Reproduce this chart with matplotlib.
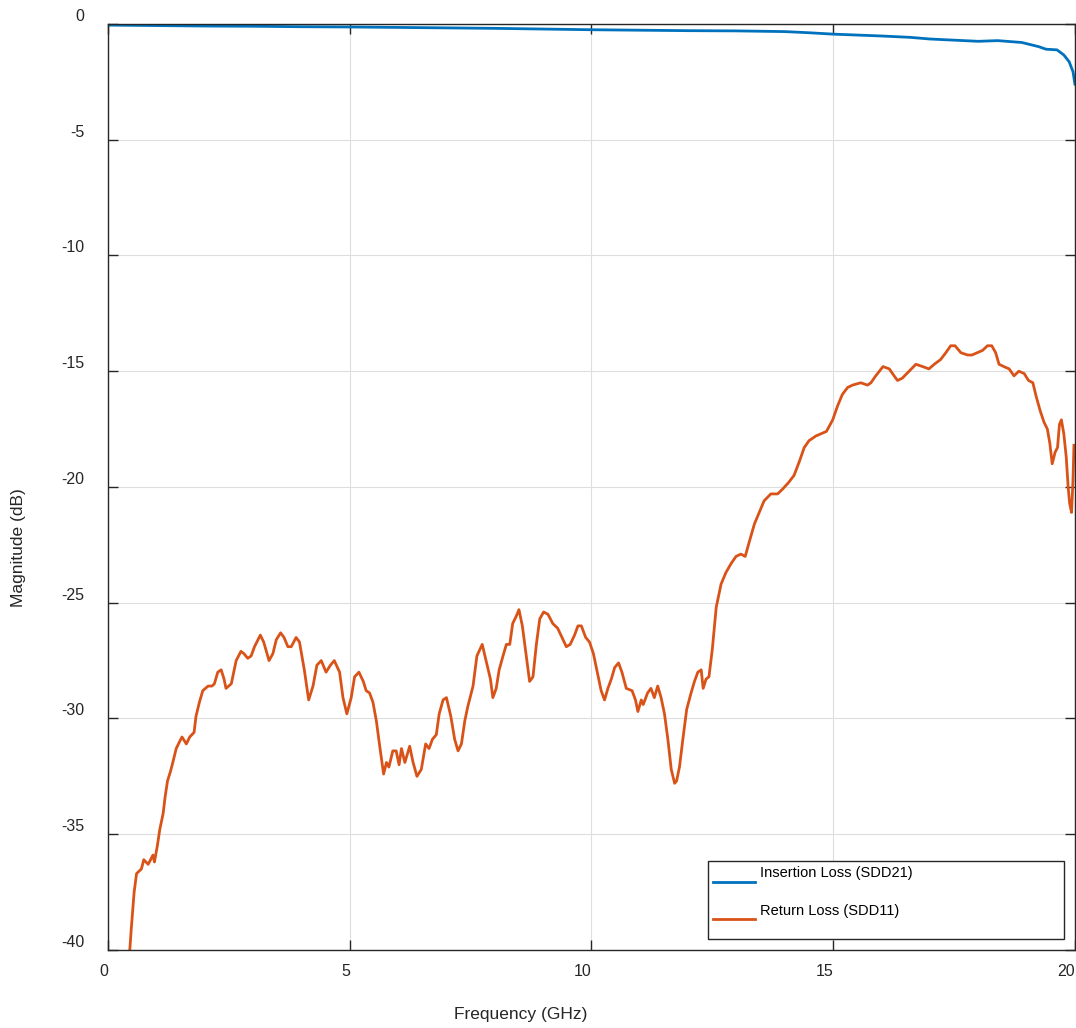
import matplotlib.pyplot as plt

plt.rcParams['font.family'] = ['Liberation Sans', 'DejaVu Sans']
plt.rcParams['axes.unicode_minus'] = False

# Insertion loss (SDD21)
il_freq = [0, 1, 2, 3, 4, 5, 6, 7, 8, 9, 10, 11, 12, 13, 14, 14.5, 15, 15.5,
           16, 16.6, 17, 17.5, 18, 18.4, 18.9, 19.25, 19.4, 19.63, 19.77, 19.88,
           19.96, 20.0]
il_db = [-0.05, -0.07, -0.09, -0.1, -0.12, -0.13, -0.15, -0.17, -0.19, -0.22,
         -0.25, -0.27, -0.29, -0.3, -0.33, -0.38, -0.44, -0.48, -0.52, -0.58,
         -0.65, -0.7, -0.75, -0.72, -0.8, -0.98, -1.09, -1.12, -1.34, -1.63,
         -2.06, -2.6]

# Return loss (SDD11)
rl_freq = [0.45, 0.48, 0.54, 0.59, 0.69, 0.74, 0.83, 0.93, 0.96, 1.02, 1.07,
           1.14, 1.18, 1.23, 1.29, 1.34, 1.41, 1.48, 1.53, 1.62, 1.69, 1.78,
           1.82, 1.89, 1.96, 2.07, 2.15, 2.2, 2.27, 2.34, 2.4, 2.44, 2.55, 2.65,
           2.75, 2.81, 2.89, 2.96, 3.03, 3.15, 3.22, 3.33, 3.41, 3.48, 3.57,
           3.64, 3.72, 3.79, 3.89, 3.96, 4.06, 4.15, 4.24, 4.32, 4.41, 4.51,
           4.6, 4.68, 4.79, 4.86, 4.94, 5.03, 5.1, 5.19, 5.28, 5.34, 5.41, 5.48,
           5.55, 5.62, 5.7, 5.76, 5.81, 5.89, 5.96, 6.02, 6.07, 6.14, 6.24,
           6.31, 6.39, 6.48, 6.57, 6.64, 6.71, 6.79, 6.85, 6.93, 7.0, 7.09,
           7.17, 7.24, 7.31, 7.38, 7.44, 7.55, 7.63, 7.74, 7.82, 7.91, 7.96,
           8.03, 8.09, 8.17, 8.24, 8.31, 8.37, 8.44, 8.5, 8.57, 8.65, 8.72,
           8.79, 8.86, 8.93, 9.01, 9.1, 9.2, 9.3, 9.39, 9.48, 9.56, 9.65, 9.72,
           9.79, 9.88, 9.96, 10.04, 10.11, 10.2, 10.27, 10.34, 10.41, 10.48,
           10.56, 10.63, 10.72, 10.84, 10.91, 10.96, 11.03, 11.07, 11.16, 11.23,
           11.3, 11.37, 11.44, 11.51, 11.58, 11.65, 11.72, 11.76, 11.82, 11.89,
           11.97, 12.06, 12.13, 12.2, 12.27, 12.31, 12.37, 12.43, 12.5, 12.58,
           12.68, 12.78, 12.89, 12.99, 13.09, 13.18, 13.26, 13.37, 13.47, 13.57,
           13.71, 13.85, 13.95, 14.08, 14.19, 14.3, 14.4, 14.5, 14.64, 14.75,
           14.86, 14.99, 15.09, 15.19, 15.3, 15.4, 15.57, 15.71, 15.78, 15.88,
           16.03, 16.16, 16.26, 16.33, 16.43, 16.57, 16.71, 16.85, 16.98, 17.09,
           17.22, 17.33, 17.43, 17.52, 17.64, 17.78, 17.87, 17.98, 18.09, 18.19,
           18.28, 18.36, 18.43, 18.53, 18.64, 18.74, 18.84, 18.95, 19.04, 19.13,
           19.2, 19.28, 19.36, 19.43, 19.48, 19.53, 19.59, 19.64, 19.68, 19.72,
           19.77, 19.82, 19.86, 19.89, 19.93, 19.96, 19.98]
rl_db = [-40.0, -39.1, -37.5, -36.7, -36.5, -36.1, -36.3, -35.9, -36.2, -35.5,
         -34.8, -34.1, -33.4, -32.7, -32.3, -31.9, -31.3, -31.0, -30.8, -31.1,
         -30.8, -30.6, -29.9, -29.3, -28.8, -28.6, -28.6, -28.5, -28.0, -27.9,
         -28.3, -28.7, -28.5, -27.5, -27.1, -27.2, -27.4, -27.3, -26.9, -26.4,
         -26.7, -27.5, -27.2, -26.6, -26.3, -26.5, -26.9, -26.9, -26.5, -26.7,
         -27.9, -29.2, -28.6, -27.7, -27.5, -28.0, -27.7, -27.5, -28.0, -29.1,
         -29.8, -29.1, -28.2, -28.0, -28.4, -28.8, -28.9, -29.3, -30.1, -31.2,
         -32.4, -31.9, -32.1, -31.4, -31.4, -32.0, -31.3, -31.9, -31.2, -31.9,
         -32.5, -32.2, -31.1, -31.3, -30.9, -30.7, -29.8, -29.2, -29.1, -29.9,
         -30.9, -31.4, -31.1, -30.1, -29.5, -28.6, -27.3, -26.8, -27.5, -28.3,
         -29.1, -28.7, -27.9, -27.3, -26.8, -26.8, -25.9, -25.6, -25.3, -26.0,
         -27.3, -28.4, -28.2, -26.8, -25.7, -25.4, -25.5, -25.9, -26.1, -26.5,
         -26.9, -26.8, -26.4, -26.0, -26.0, -26.5, -26.7, -27.2, -27.9, -28.8,
         -29.2, -28.7, -28.3, -27.8, -27.6, -28.0, -28.7, -28.8, -29.2, -29.7,
         -29.2, -29.4, -28.9, -28.7, -29.1, -28.6, -29.1, -29.8, -30.9, -32.2,
         -32.8, -32.7, -32.1, -30.9, -29.6, -28.9, -28.4, -28.0, -27.9, -28.7,
         -28.3, -28.2, -27.0, -25.2, -24.2, -23.7, -23.3, -23.0, -22.9, -23.0,
         -22.4, -21.6, -21.1, -20.6, -20.3, -20.3, -20.1, -19.8, -19.5, -18.9,
         -18.3, -18.0, -17.8, -17.7, -17.6, -17.1, -16.5, -16.0, -15.7, -15.6,
         -15.5, -15.6, -15.5, -15.2, -14.8, -14.9, -15.2, -15.4, -15.3, -15.0,
         -14.7, -14.8, -14.9, -14.7, -14.5, -14.2, -13.9, -13.9, -14.2, -14.3,
         -14.3, -14.2, -14.1, -13.9, -13.9, -14.2, -14.7, -14.8, -14.9, -15.2,
         -15.0, -15.1, -15.4, -15.5, -16.1, -16.7, -17.2, -17.5, -18.1, -19.0,
         -18.5, -18.3, -17.3, -17.1, -17.7, -18.7, -20.0, -20.7, -21.1, -19.7,
         -18.2]

x_ticks = [0, 5, 10, 15, 20]
y_ticks = [0, -5, -10, -15, -20, -25, -30, -35, -40]

dark = '#262626'

fig = plt.figure(figsize=(10.76, 10.28), dpi=100)
ax = fig.add_axes([0.1004, 0.0759, 0.8986, 0.9008])

ax.plot(il_freq, il_db, color='#0072BD', lw=2.0, label='Insertion Loss (SDD21)\n')
ax.plot(rl_freq, rl_db, color='#D95319', lw=2.0, label='Return Loss (SDD11)\n')

ax.set_xlim(0, 20)
ax.set_ylim(-40, 0)
ax.set_xticks(x_ticks)
ax.set_yticks(y_ticks)
ax.set_xticklabels([str(t) for t in x_ticks])
ax.set_yticklabels([str(t) for t in y_ticks])

ax.grid(True, color='#dedede', lw=0.8)
ax.set_axisbelow(True)
for sp in ax.spines.values():
    sp.set_color(dark)
    sp.set_linewidth(1.0)

ax.tick_params(axis='both', direction='in', length=7, width=1.0, color=dark,
               labelcolor=dark, labelsize=11.5, top=True, right=True)
ax.tick_params(axis='y', pad=17)
ax.tick_params(axis='x', pad=10)
for lbl in ax.get_yticklabels():
    lbl.set_verticalalignment('bottom')
for lbl in ax.get_xticklabels():
    lbl.set_horizontalalignment('right')

ax.set_xlabel('Frequency (GHz)', fontsize=12.5, color=dark, va='center')
ax.set_ylabel('Magnitude (dB)', fontsize=12.5, color=dark, va='center')
ax.xaxis.set_label_coords(0.427, -0.070)
ax.yaxis.set_label_coords(-0.093, 0.434)

leg = ax.legend(loc='lower left', bbox_to_anchor=(0.6205, 0.0117, 0.368, 0.08),
                mode='expand', fontsize=10.5, frameon=True, fancybox=False,
                edgecolor=dark, framealpha=1, handlelength=2.9, handletextpad=0.3,
                labelspacing=0.5, borderpad=0.35, borderaxespad=0)
leg.get_frame().set_linewidth(1.0)
for t in leg.get_texts():
    t.set_color('black')

fig.savefig('out.png', dpi=100)
